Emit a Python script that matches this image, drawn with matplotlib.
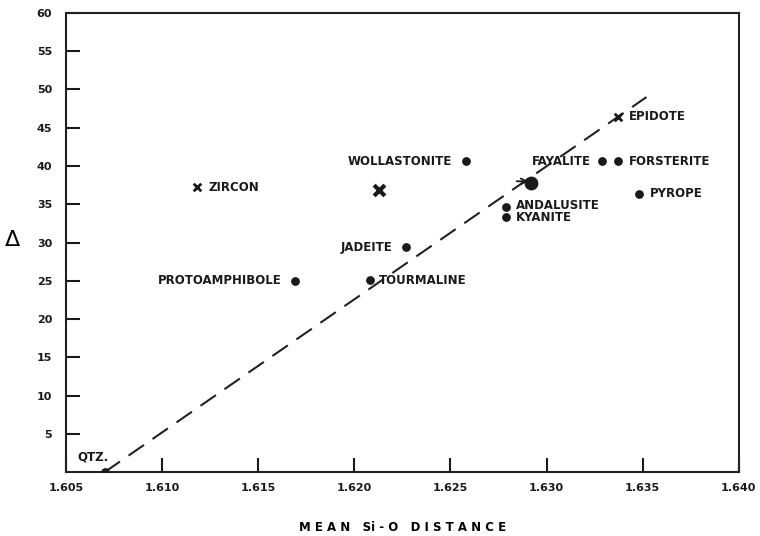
import matplotlib
matplotlib.use("Agg")
from matplotlib import pyplot as plt

# mineral points (mean Si-O distance, delta)
dot_names = ["QTZ.", "PROTOAMPHIBOLE", "TOURMALINE", "JADEITE", "WOLLASTONITE",
             "ANDALUSITE", "KYANITE", "FAYALITE", "FORSTERITE", "PYROPE"]
dot_x = [1.6070, 1.6169, 1.6208, 1.6227, 1.6258, 1.6279, 1.6279, 1.6329, 1.6337, 1.6348]
dot_y = [0.0, 25.0, 25.1, 29.4, 40.6, 34.7, 33.3, 40.6, 40.6, 36.4]

cross_names = ["ZIRCON", "EPIDOTE", ""]
cross_x = [1.6118, 1.6337, 1.6213]
cross_y = [37.2, 46.4, 36.9]

blob_x = [1.6292]
blob_y = [37.8]

line_x = [1.6070, 1.6352]
line_y = [0.0, 49.0]

# where each label sits relative to its point (dx in data units, dy, ha)
dot_lab = {
    "QTZ.": (-0.0014, 2.0, "left"),
    "PROTOAMPHIBOLE": (-0.0007, 0, "right"),
    "TOURMALINE": (0.0005, 0, "left"),
    "JADEITE": (-0.0007, 0, "right"),
    "WOLLASTONITE": (-0.0007, 0, "right"),
    "FAYALITE": (-0.0006, 0, "right"),
    "FORSTERITE": (0.0006, 0, "left"),
    "PYROPE": (0.0006, 0, "left"),
}

fig = plt.figure(figsize=(7.6, 5.36), dpi=100)
ax = fig.add_axes([0.087, 0.119, 0.885, 0.857])

ax.plot(line_x, line_y, color="#222222", lw=1.5, dashes=(9, 5))
ax.scatter(dot_x, dot_y, s=28, color="#1a1a1a", zorder=3)
ax.scatter(cross_x[:2], cross_y[:2], s=30, marker="x", color="#1a1a1a", linewidths=2, zorder=3)
ax.scatter(cross_x[2:], cross_y[2:], s=60, marker="x", color="#1a1a1a", linewidths=3, zorder=3)
ax.scatter(blob_x, blob_y, s=80, color="#1a1a1a", zorder=3)
ax.annotate("", xy=(blob_x[0], blob_y[0] + 0.2), xytext=(blob_x[0] - 0.0009, blob_y[0] + 0.2),
            arrowprops=dict(arrowstyle="->", color="#1a1a1a", lw=1.3))

font = dict(fontsize=8.5, fontweight="bold", color="#1a1a1a", va="center")
for n, x, y in zip(dot_names, dot_x, dot_y):
    if n in dot_lab:
        dx, dy, ha = dot_lab[n]
        ax.text(x + dx, y + dy, n, ha=ha, **font)
# andalusite and kyanite sit so close that they share one two-line label
i, j = dot_names.index("ANDALUSITE"), dot_names.index("KYANITE")
ax.text(dot_x[i] + 0.0005, (dot_y[i] + dot_y[j]) / 2, dot_names[i] + "\n" + dot_names[j],
        ha="left", linespacing=0.9, **font)
for n, x, y in zip(cross_names, cross_x, cross_y):
    if n:
        ax.text(x + 0.0006, y, n, ha="left", **font)

ax.set_xlim(1.605, 1.640)
ax.set_ylim(0, 60)
ax.set_xticks([1.605, 1.610, 1.615, 1.620, 1.625, 1.630, 1.635, 1.640])
ax.set_xticklabels(["1.605", "1.610", "1.615", "1.620", "1.625", "1.630", "1.635", "1.640"])
ax.set_yticks(range(5, 61, 5))
ax.tick_params(direction="in", length=10, width=1.5, labelsize=8, pad=8, colors="#1a1a1a")
ax.tick_params(axis="y", pad=10)
for lab in ax.get_xticklabels() + ax.get_yticklabels():
    lab.set_fontweight("bold")
for s in ax.spines.values():
    s.set_linewidth(1.5)
    s.set_color("#222222")

ax.set_xlabel("M E A N   Si - O   D I S T A N C E", fontsize=8.5, fontweight="bold", labelpad=20)
fig.text(0.017, 0.552, "\u0394", fontsize=16, ha="center", va="center")

fig.savefig("out.png", dpi=100)
